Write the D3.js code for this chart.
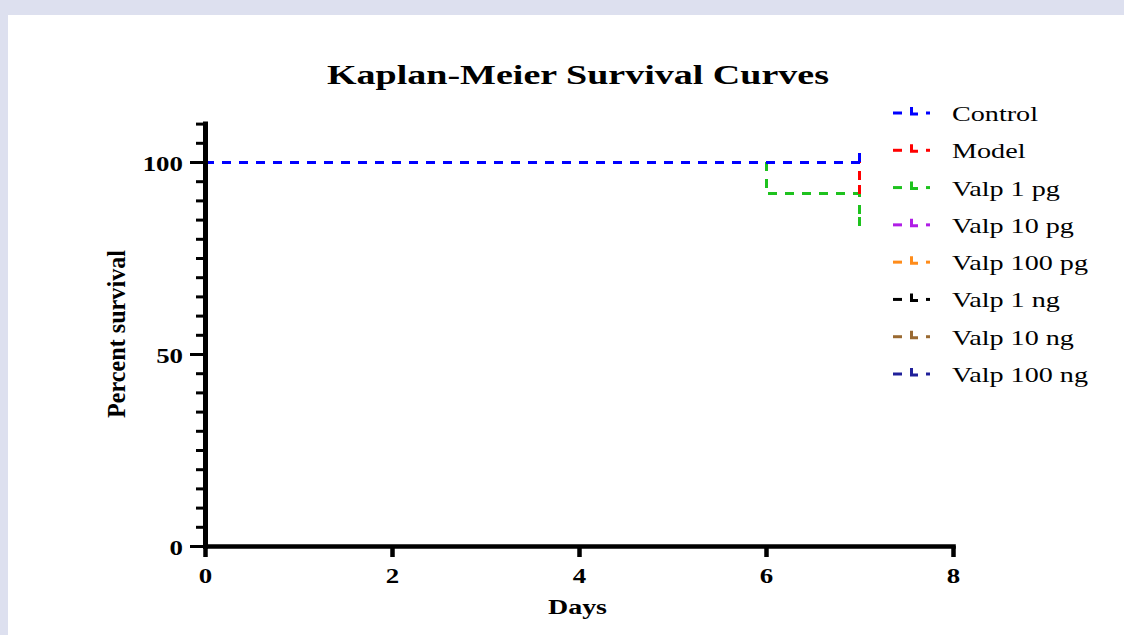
<!DOCTYPE html>
<html><head><meta charset="utf-8">
<script src="https://cdn.jsdelivr.net/npm/d3@7"></script>
<style>
html,body{margin:0;padding:0;background:#dde0ef;}
svg{display:block;}
text{font-family:"Liberation Serif","Times New Roman",serif;}
</style></head>
<body>
<script>
// ---- data ----
const seriesNames = ["Control","Model","Valp 1 pg","Valp 10 pg","Valp 100 pg","Valp 1 ng","Valp 10 ng","Valp 100 ng"];
const seriesColors = ["#0000ff","#ff0000","#1ec21e","#b01ee6","#ff8c1a","#000000","#9a6a32","#20209a"];
// survival steps: days and percent survival at each step
const controlDays = [0,7],       controlPct = [100,100];
const modelDays   = [0,7,7],     modelPct   = [100,100,91.67];
const valp1pgDays = [0,6,6,7,7], valp1pgPct = [100,100,91.67,91.67,83.33];
const valp10pgDays = [0,7],  valp10pgPct = [100,100];
const valp100pgDays = [0,7], valp100pgPct = [100,100];
const valp1ngDays = [0,7],   valp1ngPct = [100,100];
const valp10ngDays = [0,7],  valp10ngPct = [100,100];
const valp100ngDays = [0,7], valp100ngPct = [100,100];
const xTicks = [0,2,4,6,8];
const yMajorTicks = [0,50,100];
const yMinorTicks = [5,10,15,20,25,30,35,40,45,55,60,65,70,75,80,85,90,95,105,110];
const titleText = "Kaplan-Meier Survival Curves";
const xTitle = "Days", yTitle = "Percent survival";

const daysList = [controlDays,modelDays,valp1pgDays,valp10pgDays,valp100pgDays,valp1ngDays,valp10ngDays,valp100ngDays];
const pctList  = [controlPct,modelPct,valp1pgPct,valp10pgPct,valp100pgPct,valp1ngPct,valp10ngPct,valp100ngPct];

// ---- layout ----
const W = 1124, H = 635, SX = 1.28;
const svg = d3.select("body").append("svg").attr("width",W).attr("height",H);
svg.append("rect").attr("x",8).attr("y",15).attr("width",W-8).attr("height",H-15).attr("fill","#ffffff");

const x = d3.scaleLinear().domain([0,8]).range([205,953]);
const y = d3.scaleLinear().domain([0,110]).range([546,123.6]);

// title
svg.append("text").attr("x",578).attr("y",84).attr("text-anchor","middle")
  .attr("font-size",27).attr("font-weight","bold").attr("textLength",502).attr("lengthAdjust","spacingAndGlyphs")
  .text(titleText);

// series lines (draw hidden ones first, Control on top)
const line = d3.line().x(d=>x(d[0])).y(d=>y(d[1]));
const order = [7,6,5,4,3,2,1,0];
order.forEach(i=>{
  const pts = daysList[i].map((d,j)=>[d,pctList[i][j]]);
  svg.append("path").attr("d",line(pts)).attr("fill","none")
    .attr("stroke",seriesColors[i]).attr("stroke-width",3).attr("stroke-dasharray","9 8")
    .attr("shape-rendering","crispEdges");
  // censor tick at end
  const last = pts[pts.length-1];
  svg.append("line").attr("x1",x(last[0])).attr("x2",x(last[0]))
    .attr("y1",y(last[1])).attr("y2",y(last[1])-9)
    .attr("stroke",seriesColors[i]).attr("stroke-width",3.5)
    .attr("shape-rendering","crispEdges");
});

// y axis
const yMaj = svg.append("g").attr("transform",`translate(${x(0)},0)`)
  .call(d3.axisLeft(y).tickValues(yMajorTicks).tickSize(15).tickSizeOuter(0).tickFormat(d3.format("d")));
const yMin = svg.append("g").attr("transform",`translate(${x(0)},0)`)
  .call(d3.axisLeft(y).tickValues(yMinorTicks).tickSize(9).tickSizeOuter(0).tickFormat(""));
[yMaj,yMin].forEach(g=>{
  g.select(".domain").attr("stroke","#000").attr("stroke-width",5).attr("stroke-linecap","square");
  g.selectAll(".tick line").attr("stroke","#000").attr("stroke-width",3);
});
yMin.select(".domain").remove();
yMaj.selectAll(".tick text").attr("x",0).attr("dy",null).attr("y",0)
  .attr("transform","translate(-22,8) scale("+SX+",1)")
  .attr("text-anchor","end").attr("fill","#000")
  .attr("font-family","Liberation Serif").attr("font-size",21).attr("font-weight","bold");

// x axis
const xAx = svg.append("g").attr("transform",`translate(0,${y(0)})`)
  .call(d3.axisBottom(x).tickValues(xTicks).tickSize(11).tickSizeOuter(0).tickFormat(d3.format("d")));
xAx.select(".domain").attr("stroke","#000").attr("stroke-width",4.6).attr("stroke-linecap","square");
xAx.selectAll(".tick line").attr("stroke","#000").attr("stroke-width",4.5);
xAx.selectAll(".tick text").attr("y",0).attr("dy",null)
  .attr("transform","translate(0,37) scale("+SX+",1)")
  .attr("text-anchor","middle").attr("fill","#000")
  .attr("font-family","Liberation Serif").attr("font-size",21).attr("font-weight","bold");

// axis titles
svg.append("text").attr("x",577.5).attr("y",614).attr("text-anchor","middle")
  .attr("font-size",20).attr("font-weight","bold").attr("textLength",59).attr("lengthAdjust","spacingAndGlyphs")
  .text(xTitle);
svg.append("text").attr("transform","translate(125,334) scale(1.3,1) rotate(-90)")
  .attr("text-anchor","middle").attr("font-size",20).attr("font-weight","bold")
  .attr("textLength",168).attr("lengthAdjust","spacingAndGlyphs")
  .text(yTitle);

// legend
const legY = d3.scaleLinear().domain([0,7]).range([121,382]);
seriesNames.forEach((name,i)=>{
  const by = legY(i), cy = by - 8;
  const c = seriesColors[i];
  const g = svg.append("g");
  g.append("line").attr("x1",893).attr("x2",902).attr("y1",cy).attr("y2",cy).attr("stroke",c).attr("stroke-width",3);
  g.append("path").attr("d",`M911.5,${cy-6}V${cy+1}H918`).attr("fill","none").attr("stroke",c).attr("stroke-width",3);
  g.append("line").attr("x1",926).attr("x2",930).attr("y1",cy).attr("y2",cy).attr("stroke",c).attr("stroke-width",3);
  g.append("text").attr("transform",`translate(952,${by}) scale(${SX},1)`)
    .attr("font-size",22).attr("fill","#000").text(name);
});
</script>
</body></html>
